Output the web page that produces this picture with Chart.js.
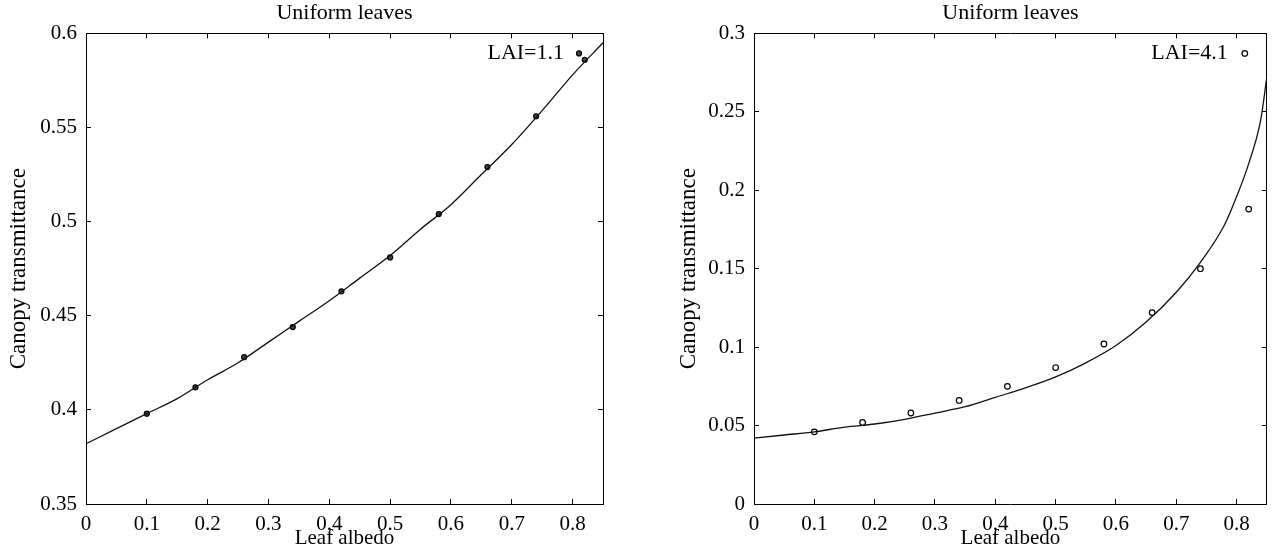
<!DOCTYPE html>
<html>
<head>
<meta charset="utf-8">
<script src="https://cdn.jsdelivr.net/npm/chart.js@4.4.0/dist/chart.umd.min.js"></script>
<style>
body { margin: 0; background: #fff; }
canvas { position: absolute; top: 0; }
#chart-lai1 { left: 0; }
#chart-lai4 { left: 636px; }
</style>
</head>
<body>
<canvas id="chart-lai1" width="636" height="554"></canvas>
<canvas id="chart-lai4" width="636" height="554"></canvas>
<script>
// tick labels
var xTicks = [0, 0.1, 0.2, 0.3, 0.4, 0.5, 0.6, 0.7, 0.8];
var yTicks1 = [0.35, 0.4, 0.45, 0.5, 0.55, 0.6];
var yTicks4 = [0, 0.05, 0.1, 0.15, 0.2, 0.25, 0.3];

// measured points (leaf albedo -> canopy transmittance)
var albedo = [0.1, 0.18, 0.26, 0.34, 0.42, 0.5, 0.58, 0.66, 0.74, 0.82];
var lai1Points = [0.398, 0.412, 0.428, 0.444, 0.463, 0.481, 0.504, 0.529, 0.556, 0.586];
var lai4Points = [0.046, 0.052, 0.058, 0.066, 0.075, 0.087, 0.102, 0.122, 0.150, 0.188];

// model curves
var curveAlbedo1 = [0, 0.05, 0.1, 0.15, 0.2, 0.25, 0.3, 0.35, 0.4, 0.45, 0.5, 0.55, 0.6, 0.65, 0.7, 0.75, 0.8, 0.85];
var lai1Curve = [0.382, 0.390, 0.398, 0.406, 0.416, 0.425, 0.436, 0.447, 0.458, 0.470, 0.482, 0.496, 0.509, 0.525, 0.541, 0.559, 0.578, 0.595];
var curveAlbedo4 = [0, 0.05, 0.1, 0.15, 0.2, 0.25, 0.3, 0.35, 0.4, 0.45, 0.5, 0.55, 0.6, 0.65, 0.7, 0.74, 0.78, 0.8, 0.82, 0.84, 0.85];
var lai4Curve = [0.042, 0.044, 0.046, 0.049, 0.051, 0.054, 0.058, 0.062, 0.068, 0.074, 0.081, 0.090, 0.101, 0.116, 0.135, 0.154, 0.178, 0.196, 0.217, 0.245, 0.272];

Chart.defaults.font.family = '"Liberation Serif", "Times New Roman", serif';
Chart.defaults.font.size = 21;
Chart.defaults.color = '#000';

function pairs(xs, ys) {
    return xs.map(function(x, i) { return {x: x, y: ys[i]}; });
}

function fixedTicks(values) {
    return function(scale) {
        scale.ticks = values.map(function(v) { return {value: v}; });
    };
}

function fmt(v) {
    return String(+v.toFixed(2));
}

// "LAI=..." key in the top right corner
var laiLabel = {
    id: 'laiLabel',
    afterDatasetsDraw: function(chart, args, o) {
        var ctx = chart.ctx, a = chart.chartArea;
        var y = a.top + 20;
        ctx.save();
        ctx.font = '22px "Liberation Serif", serif';
        ctx.fillStyle = '#000';
        ctx.textAlign = 'right';
        ctx.textBaseline = 'middle';
        ctx.fillText(o.text, a.right - 39, y);
        ctx.beginPath();
        ctx.arc(a.right - o.markerOff, y, o.radius, 0, Math.PI * 2);
        ctx.fillStyle = o.fill;
        ctx.fill();
        ctx.lineWidth = 1.2;
        ctx.strokeStyle = '#000';
        ctx.stroke();
        ctx.restore();
    }
};

function axis(pos, min, max, ticks, extra) {
    return Object.assign({
        type: 'linear',
        position: pos,
        min: min,
        max: max,
        afterBuildTicks: fixedTicks(ticks),
        border: { display: true, color: '#000', width: 1 },
        grid: { drawOnChartArea: false, tickLength: -5, tickColor: '#000', tickWidth: 1 },
        ticks: { display: false }
    }, extra);
}

function makeChart(id, o) {
    return new Chart(document.getElementById(id), {
        type: 'line',
        data: {
            datasets: [
                {
                    data: pairs(o.curveX, o.curveY),
                    borderColor: '#111',
                    borderWidth: 1.3,
                    pointRadius: 0,
                    cubicInterpolationMode: 'monotone',
                    fill: false
                },
                {
                    data: pairs(albedo, o.points),
                    showLine: false,
                    pointRadius: o.radius,
                    pointBackgroundColor: o.fill,
                    pointBorderColor: '#000',
                    pointBorderWidth: 1.2
                }
            ]
        },
        options: {
            responsive: false,
            animation: false,
            layout: { padding: { left: 0, right: o.padRight, top: 0, bottom: 0 } },
            plugins: {
                legend: { display: false },
                tooltip: { enabled: false },
                title: {
                    display: true,
                    text: o.title,
                    fullSize: false,
                    font: { size: 22, weight: 'normal' },
                    padding: { top: 0, bottom: 7 }
                },
                laiLabel: { text: o.lai, radius: o.radius, fill: o.fill, markerOff: o.markerOff }
            },
            scales: {
                x: axis('bottom', 0, 0.85, xTicks, {
                    afterFit: function(s) { s.height = 50; },
                    ticks: { display: true, padding: 13, maxRotation: 0, autoSkip: false, callback: fmt },
                    title: { display: true, text: 'Leaf albedo', font: { size: 21 }, padding: { top: 0, bottom: 3 } }
                }),
                x2: axis('top', 0, 0.85, xTicks, {
                    afterFit: function(s) { s.height = 0; }
                }),
                y: axis('left', o.yMin, o.yMax, o.yTicks, {
                    afterFit: function(s) { s.width = o.yWidth; },
                    ticks: { display: true, padding: 14, autoSkip: false, callback: fmt },
                    title: { display: true, text: 'Canopy transmittance', font: { size: 23 }, padding: { top: o.titlePad, bottom: 0 } }
                }),
                y2: axis('right', o.yMin, o.yMax, o.yTicks, {
                    afterFit: function(s) { s.width = 0; }
                })
            }
        },
        plugins: [laiLabel]
    });
}

var lai1Chart = makeChart('chart-lai1', {
    title: 'Uniform leaves',
    lai: 'LAI=1.1',
    curveX: curveAlbedo1,
    curveY: lai1Curve,
    points: lai1Points,
    yMin: 0.35,
    yMax: 0.6,
    yTicks: yTicks1,
    yWidth: 86,
    titlePad: 5,
    padRight: 33,
    radius: 2.5,
    fill: '#444',
    markerOff: 24
});

var lai4Chart = makeChart('chart-lai4', {
    title: 'Uniform leaves',
    lai: 'LAI=4.1',
    curveX: curveAlbedo4,
    curveY: lai4Curve,
    points: lai4Points,
    yMin: 0,
    yMax: 0.3,
    yTicks: yTicks4,
    yWidth: 118,
    titlePad: 39,
    padRight: 0,
    radius: 2.8,
    fill: '#fff',
    markerOff: 22
});
</script>
</body>
</html>
